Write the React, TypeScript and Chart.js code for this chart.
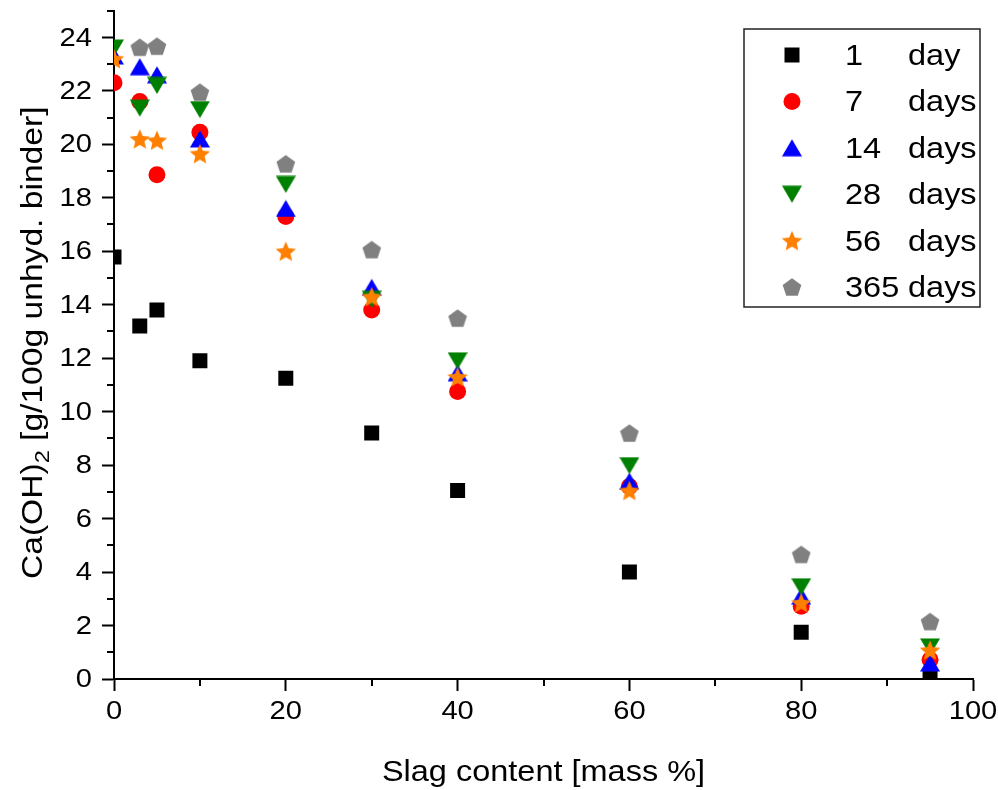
import React, { useEffect, useRef } from 'react';
import { Chart, registerables } from 'chart.js';

Chart.register(...registerables);

// ---- data ----
const slagContent = [0, 3, 5, 10, 20, 30, 40, 60, 80, 95];
const day1 = [15.78, 13.2, 13.8, 11.9, 11.25, 9.2, 7.05, 4.0, 1.75, 0.1];
const day7 = [22.3, 21.6, 18.86, 20.45, 17.3, 13.8, 10.75, 7.2, 2.72, 0.72];
const day14 = [23.3, 22.9, 22.6, 20.2, 17.6, 14.65, 11.45, 7.4, 3.1, 0.6];
const day28 = [23.6, 21.35, 22.2, 21.3, 18.5, 14.2, 11.9, 7.98, 3.45, 1.2];
const day56 = [23.2, 20.2, 20.15, 19.65, 16.0, 14.3, 11.3, 7.05, 2.85, 1.08];
const day365 = [null, 23.63, 23.67, 21.95, 19.27, 16.06, 13.5, 9.2, 4.66, 2.15];

const xTicks = [0, 20, 40, 60, 80, 100];
const xMinor = [10, 30, 50, 70, 90];
const yTicks = [0, 2, 4, 6, 8, 10, 12, 14, 16, 18, 20, 22, 24];
const yMinor = [1, 3, 5, 7, 9, 11, 13, 15, 17, 19, 21, 23, 25];

const legendNums = ['1', '7', '14', '28', '56', '365'];
const legendUnits = ['day', 'days', 'days', 'days', 'days', 'days'];

const xTitle = 'Slag content [mass %]';
const yTitleMain = 'Ca(OH)';
const yTitleSub = '2';
const yTitleRest = ' [g/100g unhyd. binder]';

const FONT = '"Liberation Sans", Arial, Helvetica, sans-serif';
const SX = 1.12;

function drawText(
  ctx: CanvasRenderingContext2D,
  text: string,
  x: number,
  y: number,
  size: number,
  align: 'left' | 'center' | 'right',
  baseline: CanvasTextBaseline = 'middle'
) {
  ctx.save();
  ctx.font = `${size}px ${FONT}`;
  ctx.textBaseline = baseline;
  ctx.textAlign = 'left';
  const w = ctx.measureText(text).width * SX;
  let left = x;
  if (align === 'center') left = x - w / 2;
  else if (align === 'right') left = x - w;
  ctx.translate(left, y);
  ctx.scale(SX, 1);
  ctx.fillStyle = '#000';
  ctx.fillText(text, 0, 0);
  ctx.restore();
}

function makeCanvas(w: number, h: number, draw: (g: CanvasRenderingContext2D) => void) {
  const c = document.createElement('canvas');
  c.width = w;
  c.height = h;
  const g = c.getContext('2d')!;
  draw(g);
  return c;
}

function polyStar(g: CanvasRenderingContext2D, cx: number, cy: number, R: number, r: number | null, n: number) {
  g.beginPath();
  const pts = r === null ? n : n * 2;
  for (let i = 0; i < pts; i++) {
    const rad = r === null ? R : i % 2 === 0 ? R : r;
    const a = -Math.PI / 2 + (i * Math.PI * 2) / pts;
    const px = cx + Math.cos(a) * rad;
    const py = cy + Math.sin(a) * rad;
    if (i === 0) g.moveTo(px, py);
    else g.lineTo(px, py);
  }
  g.closePath();
  g.fill();
}

function drawMarker(ctx: CanvasRenderingContext2D, ds: any, x: number, y: number) {
  ctx.save();
  ctx.fillStyle = ds.backgroundColor;
  const st = ds.pointStyle;
  const r = ds.pointRadius;
  if (st === 'rect') {
    const s = Math.SQRT1_2 * r;
    ctx.fillRect(x - s, y - s, 2 * s, 2 * s);
  } else if (st === 'circle') {
    ctx.beginPath();
    ctx.arc(x, y, r, 0, Math.PI * 2);
    ctx.fill();
  } else {
    ctx.drawImage(st, x - st.width / 2, y - st.height / 2);
  }
  ctx.restore();
}

const decorPlugin = {
  id: 'decor',
  afterDraw(chart: any) {
    const ctx: CanvasRenderingContext2D = chart.ctx;
    const xs = chart.scales.x;
    const ys = chart.scales.y;
    const area = chart.chartArea;
    ctx.save();
    ctx.strokeStyle = '#000';
    ctx.lineWidth = 2;
    // minor ticks
    ctx.beginPath();
    xMinor.forEach((v) => {
      const px = Math.round(xs.getPixelForValue(v));
      ctx.moveTo(px, area.bottom);
      ctx.lineTo(px, area.bottom + 7);
    });
    yMinor.forEach((v) => {
      const py = Math.round(ys.getPixelForValue(v));
      ctx.moveTo(area.left, py);
      ctx.lineTo(area.left - 7, py);
    });
    ctx.stroke();
    ctx.restore();

    // tick labels
    xTicks.forEach((v) => {
      drawText(ctx, String(v), xs.getPixelForValue(v), area.bottom + 33, 26, 'center');
    });
    yTicks.forEach((v) => {
      drawText(ctx, String(v), area.left - 22, ys.getPixelForValue(v) + 1, 26, 'right');
    });

    // x title
    drawText(ctx, xTitle, (area.left + area.right) / 2, 773, 29, 'center');

    // y title (rotated)
    ctx.save();
    const mainSize = 30;
    const subSize = 21;
    ctx.font = `${mainSize}px ${FONT}`;
    const w1 = ctx.measureText(yTitleMain).width * SX;
    const w3 = ctx.measureText(yTitleRest).width * SX;
    ctx.font = `${subSize}px ${FONT}`;
    const w2 = ctx.measureText(yTitleSub).width * SX;
    const total = w1 + w2 + w3;
    ctx.translate(34, (area.top + area.bottom) / 2 - 2);
    ctx.rotate(-Math.PI / 2);
    let cx = -total / 2;
    drawText(ctx, yTitleMain, cx, 0, mainSize, 'left');
    cx += w1;
    drawText(ctx, yTitleSub, cx, 9, subSize, 'left');
    cx += w2;
    drawText(ctx, yTitleRest, cx, 0, mainSize, 'left');
    ctx.restore();

    // legend
    const lx = 744, ly = 29, lw = 236, lh = 278;
    ctx.save();
    ctx.strokeStyle = '#222';
    ctx.lineWidth = 1.5;
    ctx.strokeRect(lx, ly, lw, lh);
    ctx.restore();
    const rowY0 = 55;
    const rowStep = 46.4;
    chart.data.datasets.forEach((ds: any, i: number) => {
      const y = rowY0 + i * rowStep;
      drawMarker(ctx, ds, 792, y);
      drawText(ctx, legendNums[i], 845, y + 2, 29, 'left');
      drawText(ctx, legendUnits[i], 908, y + 2, 29, 'left');
    });
  },
};

export default function App() {
  const ref = useRef<HTMLCanvasElement | null>(null);

  useEffect(() => {
    if (!ref.current) return;

    const triUp = makeCanvas(20, 18, (g) => {
      g.fillStyle = '#0000FF';
      g.beginPath();
      g.moveTo(10, 0.5);
      g.lineTo(20, 17.5);
      g.lineTo(0, 17.5);
      g.closePath();
      g.fill();
    });
    const triDown = makeCanvas(20, 18, (g) => {
      g.fillStyle = '#008000';
      g.beginPath();
      g.moveTo(0, 0.5);
      g.lineTo(20, 0.5);
      g.lineTo(10, 17.5);
      g.closePath();
      g.fill();
    });
    const star = makeCanvas(22, 22, (g) => {
      g.fillStyle = '#FF8000';
      const R = 10.8;
      polyStar(g, 11, 11 + (R * (1 - Math.cos(Math.PI / 5))) / 2, R, R * 0.45, 5);
    });
    const pent = makeCanvas(20, 20, (g) => {
      g.fillStyle = '#808080';
      const R = 9.8;
      polyStar(g, 10, 10 + (R * (1 - Math.cos(Math.PI / 5))) / 2, R, null, 5);
    });

    const mk = (arr: (number | null)[]) =>
      slagContent.map((x, i) => ({ x, y: arr[i] })).filter((p) => p.y !== null);

    const base = { showLine: false, borderWidth: 0, pointBorderWidth: 0, pointHoverRadius: 0 };

    const chart = new Chart(ref.current, {
      type: 'scatter',
      data: {
        datasets: [
          { ...base, label: '1 day', data: mk(day1), pointStyle: 'rect', pointRadius: 10.6, backgroundColor: '#000000', borderColor: '#000000', order: 6 },
          { ...base, label: '7 days', data: mk(day7), pointStyle: 'circle', pointRadius: 8.5, backgroundColor: '#FF0000', borderColor: '#FF0000', order: 5 },
          { ...base, label: '14 days', data: mk(day14), pointStyle: triUp, pointRadius: 10, backgroundColor: '#0000FF', borderColor: '#0000FF', order: 4 },
          { ...base, label: '28 days', data: mk(day28), pointStyle: triDown, pointRadius: 10, backgroundColor: '#008000', borderColor: '#008000', order: 3 },
          { ...base, label: '56 days', data: mk(day56), pointStyle: star, pointRadius: 10, backgroundColor: '#FF8000', borderColor: '#FF8000', order: 2 },
          { ...base, label: '365 days', data: mk(day365), pointStyle: pent, pointRadius: 10, backgroundColor: '#808080', borderColor: '#808080', order: 1 },
        ] as any,
      },
      options: {
        animation: false,
        responsive: false,
        events: [],
        layout: { padding: { left: 0, top: 9, right: 25, bottom: 0 } },
        plugins: {
          legend: { display: false },
          tooltip: { enabled: false },
        },
        scales: {
          x: {
            type: 'linear',
            min: 0,
            max: 100,
            afterBuildTicks: (s: any) => {
              s.ticks = xTicks.map((v) => ({ value: v }));
            },
            afterFit: (s: any) => {
              s.height = 111;
            },
            ticks: { display: false },
            grid: {
              display: true,
              drawOnChartArea: false,
              drawTicks: true,
              tickLength: 12,
              tickWidth: 2,
              tickColor: '#000',
            },
            border: { display: true, color: '#000', width: 2 },
          },
          y: {
            type: 'linear',
            min: 0,
            max: 25,
            afterBuildTicks: (s: any) => {
              s.ticks = yTicks.map((v) => ({ value: v }));
            },
            afterFit: (s: any) => {
              s.width = 114;
            },
            ticks: { display: false },
            grid: {
              display: true,
              drawOnChartArea: false,
              drawTicks: true,
              tickLength: 12,
              tickWidth: 2,
              tickColor: '#000',
            },
            border: { display: true, color: '#000', width: 2 },
          },
        },
      } as any,
      plugins: [decorPlugin],
    });

    return () => chart.destroy();
  }, []);

  return (
    <div style={{ position: 'absolute', left: 0, top: 0, width: 998, height: 790, background: '#fff' }}>
      <canvas ref={ref} width={998} height={790} style={{ width: 998, height: 790, display: 'block' }} />
    </div>
  );
}
